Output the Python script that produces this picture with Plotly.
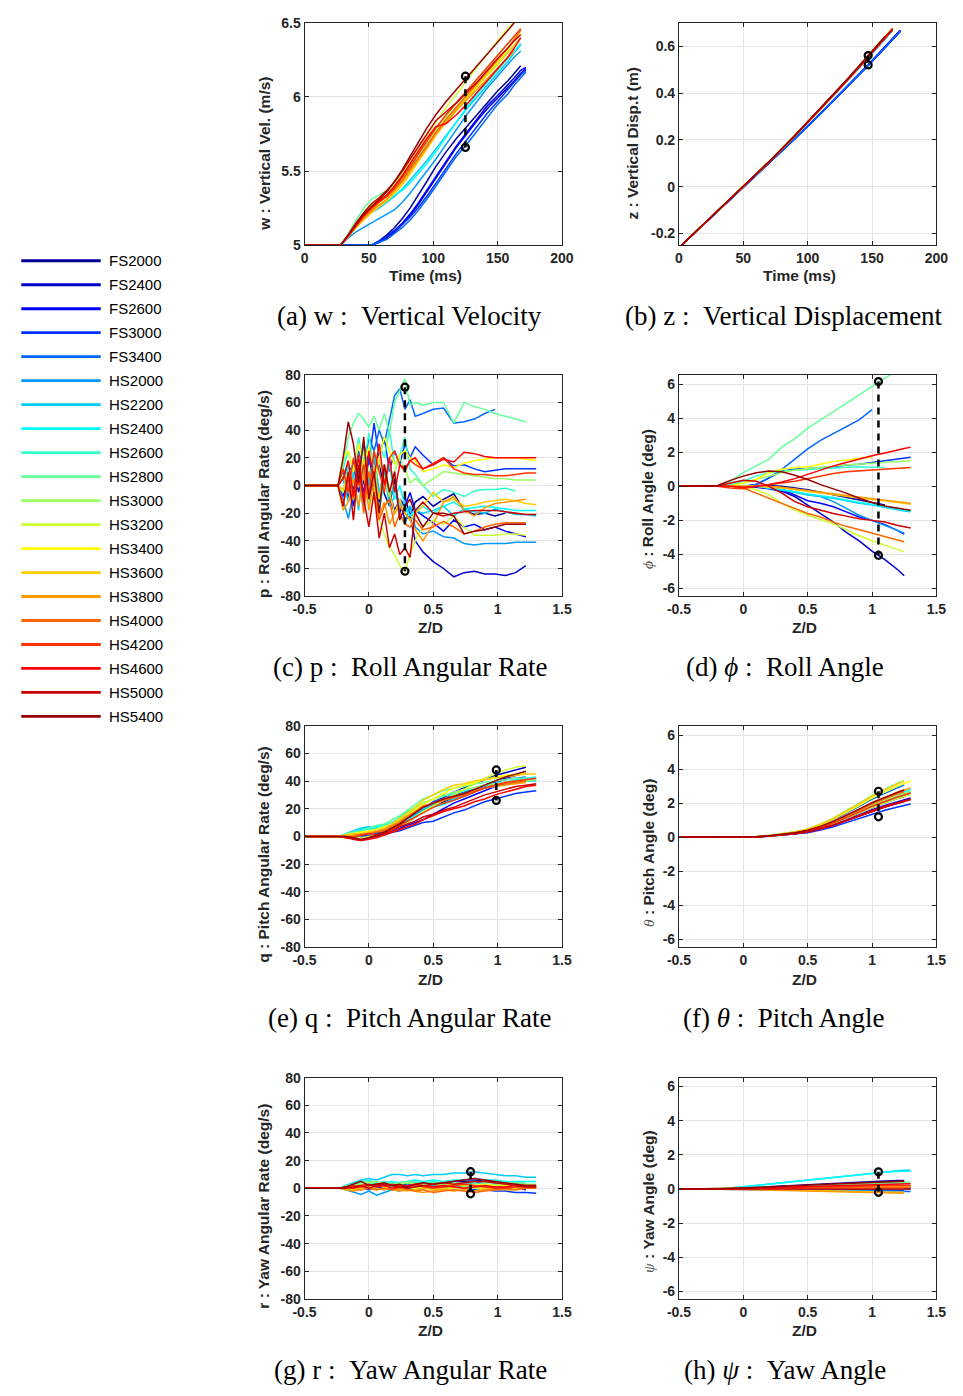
import plotly.graph_objects as go

# ---------------- series ----------------
SERIES = ["FS2000", "FS2400", "FS2600", "FS3000", "FS3400", "HS2000", "HS2200", "HS2400",
          "HS2600", "HS2800", "HS3000", "HS3200", "HS3400", "HS3600", "HS3800", "HS4000",
          "HS4200", "HS4600", "HS5000", "HS5400"]
COLORS = ["rgb(0,0,153)", "rgb(0,0,204)", "rgb(0,0,255)", "rgb(0,51,255)", "rgb(0,102,255)",
          "rgb(0,153,255)", "rgb(0,204,255)", "rgb(0,255,255)", "rgb(51,255,204)", "rgb(102,255,153)",
          "rgb(153,255,102)", "rgb(204,255,51)", "rgb(255,255,0)", "rgb(255,204,0)", "rgb(255,153,0)",
          "rgb(255,102,0)", "rgb(255,51,0)", "rgb(255,0,0)", "rgb(204,0,0)", "rgb(153,0,0)"]

# ---------------- (a) w vs time ----------------
W_T = [0, 28, 34, 40, 46, 52, 58, 64, 70, 76, 82, 88, 95, 102, 110, 118, 126, 134, 142, 150, 158, 163, 168, 172]
W_VALS = [
    [5, 5, 5, 5, 5, 5, 5.03, 5.07, 5.12, 5.18, 5.25, 5.33, 5.43, 5.53, 5.63, 5.72, 5.8, 5.88, 5.96, 6.04, 6.11, 6.16, 6.21],
    [5, 5, 5, 5, 5, 5, 5.02, 5.05, 5.09, 5.14, 5.2, 5.27, 5.36, 5.45, 5.56, 5.66, 5.75, 5.84, 5.92, 5.99, 6.06, 6.11, 6.16, 6.19],
    [5, 5, 5, 5, 5, 5, 5.02, 5.06, 5.1, 5.15, 5.21, 5.28, 5.37, 5.46, 5.57, 5.67, 5.76, 5.85, 5.94, 6.01, 6.08, 6.13, 6.18, 6.2],
    [5, 5, 5, 5, 5, 5, 5.03, 5.06, 5.1, 5.14, 5.19, 5.25, 5.33, 5.42, 5.52, 5.62, 5.71, 5.8, 5.89, 5.97, 6.05, 6.1, 6.15, 6.18],
    [5, 5, 5, 5, 5, 5, 5.02, 5.04, 5.08, 5.12, 5.17, 5.23, 5.31, 5.4, 5.5, 5.6, 5.68, 5.77, 5.86, 5.95, 6.02, 6.08, 6.13, 6.17],
    [5, 5, 5.05, 5.09, 5.12, 5.15, 5.18, 5.21, 5.24, 5.29, 5.35, 5.42, 5.5, 5.58, 5.68, 5.78, 5.88, 5.97, 6.06, 6.14, 6.22, 6.27, 6.31],
    [5, 5, 5.06, 5.12, 5.18, 5.22, 5.25, 5.29, 5.33, 5.38, 5.44, 5.5, 5.57, 5.65, 5.74, 5.83, 5.92, 6.0, 6.08, 6.16, 6.24, 6.3, 6.35],
    [5, 5, 5.06, 5.12, 5.18, 5.23, 5.27, 5.31, 5.34, 5.37, 5.42, 5.48, 5.55, 5.63, 5.73, 5.83, 5.93, 6.02, 6.1, 6.18, 6.26, 6.31, 6.36],
    [5, 5, 5.07, 5.14, 5.21, 5.26, 5.3, 5.34, 5.39, 5.45, 5.52, 5.59, 5.67, 5.76, 5.85, 5.93, 6.01, 6.09, 6.16, 6.23, 6.3, 6.35],
    [5, 5, 5.08, 5.17, 5.25, 5.31, 5.34, 5.37, 5.42, 5.49, 5.55, 5.61, 5.68, 5.76, 5.85, 5.93, 6.01, 6.08, 6.15, 6.22, 6.3, 6.35],
    [5, 5, 5.07, 5.15, 5.22, 5.28, 5.32, 5.36, 5.41, 5.47, 5.54, 5.61, 5.69, 5.78, 5.87, 5.96, 6.04, 6.12, 6.2, 6.28, 6.36, 6.41],
    [5, 5, 5.07, 5.14, 5.21, 5.27, 5.31, 5.36, 5.42, 5.49, 5.57, 5.65, 5.74, 5.83, 5.93, 6.02, 6.11, 6.2, 6.29, 6.38, 6.46, 6.51],
    [5, 5, 5.06, 5.12, 5.18, 5.23, 5.27, 5.31, 5.36, 5.42, 5.49, 5.57, 5.66, 5.75, 5.84, 5.92, 6.0, 6.08, 6.16, 6.24, 6.32, 6.38, 6.43],
    [5, 5, 5.06, 5.12, 5.17, 5.22, 5.26, 5.3, 5.35, 5.41, 5.48, 5.56, 5.65, 5.74, 5.83, 5.91, 5.99, 6.07, 6.15, 6.22, 6.3, 6.35, 6.4],
    [5, 5, 5.06, 5.12, 5.18, 5.23, 5.27, 5.31, 5.37, 5.43, 5.5, 5.57, 5.66, 5.75, 5.83, 5.91, 5.98, 6.05, 6.12, 6.19, 6.26, 6.31],
    [5, 5, 5.07, 5.13, 5.19, 5.24, 5.29, 5.33, 5.38, 5.44, 5.51, 5.58, 5.67, 5.76, 5.85, 5.93, 6.01, 6.09, 6.17, 6.25, 6.33, 6.39, 6.45],
    [5, 5, 5.07, 5.14, 5.2, 5.25, 5.29, 5.33, 5.39, 5.46, 5.53, 5.61, 5.7, 5.79, 5.88, 5.96, 6.04, 6.12, 6.2, 6.28, 6.36, 6.41, 6.46],
    [5, 5, 5.06, 5.13, 5.2, 5.26, 5.3, 5.34, 5.4, 5.47, 5.55, 5.63, 5.72, 5.8, 5.82, 5.88, 5.95, 6.03, 6.11, 6.19, 6.27, 6.33, 6.4],
    [5, 5, 5.07, 5.15, 5.22, 5.28, 5.32, 5.37, 5.43, 5.5, 5.58, 5.66, 5.75, 5.84, 5.9, 5.96, 6.03, 6.1, 6.18, 6.26, 6.33, 6.38, 6.42],
    [5, 5, 5.07, 5.14, 5.21, 5.26, 5.31, 5.36, 5.43, 5.51, 5.6, 5.69, 5.79, 5.88, 5.97, 6.05, 6.13, 6.21, 6.29, 6.37, 6.45, 6.5],
]

# ---------------- (b) z vs time ----------------
Z_T = [2, 15, 30, 50, 70, 90, 110, 130, 147, 160, 166, 172]
Z_VALS = [
    [-0.25, -0.183, -0.105, -0.002, 0.1, 0.205, 0.313, 0.423, 0.52, 0.597, 0.633, 0.667],
    [-0.25, -0.183, -0.105, -0.002, 0.1, 0.205, 0.312, 0.421, 0.518, 0.594, 0.63, 0.664],
    [-0.25, -0.183, -0.105, -0.002, 0.101, 0.206, 0.314, 0.424, 0.521, 0.598, 0.634, 0.668],
    [-0.25, -0.183, -0.105, -0.002, 0.1, 0.204, 0.311, 0.42, 0.517, 0.593, 0.629, 0.663],
    [-0.25, -0.183, -0.105, -0.002, 0.1, 0.205, 0.313, 0.423, 0.52, 0.595, 0.63, 0.665],
    [-0.25, -0.182, -0.103, 0.0, 0.106, 0.215, 0.329, 0.447, 0.55, 0.63, 0.667],
    [-0.25, -0.182, -0.103, 0.0, 0.106, 0.216, 0.33, 0.448, 0.551, 0.632, 0.669],
    [-0.25, -0.182, -0.103, 0.0, 0.106, 0.216, 0.33, 0.448, 0.552, 0.632, 0.67],
    [-0.25, -0.182, -0.103, 0.0, 0.107, 0.218, 0.333, 0.452, 0.556, 0.637, 0.675],
    [-0.25, -0.182, -0.103, 0.0, 0.107, 0.219, 0.334, 0.454, 0.558, 0.64, 0.678],
    [-0.25, -0.182, -0.103, 0.0, 0.107, 0.218, 0.333, 0.452, 0.556, 0.637, 0.675],
    [-0.25, -0.182, -0.103, 0.0, 0.107, 0.219, 0.334, 0.454, 0.559, 0.641, 0.679],
    [-0.25, -0.182, -0.103, 0.0, 0.107, 0.218, 0.333, 0.452, 0.556, 0.637, 0.675],
    [-0.25, -0.182, -0.103, 0.0, 0.107, 0.218, 0.332, 0.451, 0.555, 0.636, 0.674],
    [-0.25, -0.182, -0.103, 0.0, 0.106, 0.217, 0.331, 0.45, 0.554, 0.634, 0.672],
    [-0.25, -0.182, -0.103, 0.0, 0.107, 0.218, 0.333, 0.452, 0.556, 0.637, 0.675],
    [-0.25, -0.182, -0.103, 0.0, 0.107, 0.218, 0.333, 0.452, 0.556, 0.637, 0.675],
    [-0.25, -0.182, -0.103, 0.0, 0.106, 0.217, 0.331, 0.449, 0.553, 0.634, 0.672],
    [-0.25, -0.182, -0.103, 0.0, 0.107, 0.218, 0.333, 0.452, 0.556, 0.637, 0.675],
    [-0.25, -0.182, -0.103, 0.0, 0.107, 0.219, 0.335, 0.455, 0.56, 0.642],
]

# ---------------- (c) p vs Z/D ----------------
P_X = [-0.5, -0.24, -0.2, -0.16, -0.12, -0.08, -0.04, 0.0, 0.04, 0.08, 0.12, 0.16, 0.2, 0.24, 0.28,
       0.32, 0.36, 0.42, 0.5, 0.58, 0.66, 0.74, 0.82, 0.9, 0.98, 1.06, 1.14, 1.22, 1.3]
P_VALS = [
    [0, 0, -5, 8, -3, 12, 2, -10, 5, 18, -6, -15, 5, -20, -8, -22, -12, -8, -15, -10, -6, -18, -21, -20, -22, -20],
    [0, 0, 6, -10, 15, -5, 10, 22, 0, -12, 8, -5, -18, -10, -25, -22, -40, -48, -55, -60, -66, -63, -62, -64, -64, -65, -63, -58],
    [0, 0, -8, 5, -15, 10, -5, 20, 8, -10, 15, -8, -20, -10, -15, -5, -18, -22, -27, -33, -25, -30, -28, -32, -30, -33, -35, -37],
    [0, 0, 10, -5, 18, 5, 30, 15, 45, 20, 35, 10, 25, 15, 30, 20, 28, 22, 15, 20, 14, 15, 12, 10, 11, 12, 12, 12, 12],
    [0, 0, 5, 15, 8, 25, 12, 35, 25, 40, 30, 48, 65, 70, 55, 62, 50, 52, 55, 56, 45, 46, 48, 52, 55],
    [0, 0, -10, -24, -5, 10, -15, 5, 20, -8, 12, -10, 0, -20, -28, -15, -30, -35, -33, -37, -38, -42, -43, -42, -42, -42, -41, -41, -41],
    [0, 0, 5, -12, 10, -18, 15, 0, 25, -5, 10, -15, -8, -12, -20, -15, -18, -20, -18, -15, -22, -17, -19, -20, -17, -19, -21, -21, -22],
    [0, 0, -5, 15, -10, 5, 20, -12, 10, -20, 5, 15, -10, 0, -15, -22, -18, -15, -20, -15, -12, -17, -16, -15, -16, -17, -18, -18, -18],
    [0, 0, 12, 25, 10, 35, 15, 38, 10, 30, 20, 40, 15, 22, 35, 12, 8, 0, -8, -3, -5, -8, -4, -3, -3, -2, -4],
    [0, 0, 15, 35, 45, 52, 48, 42, 50, 40, 52, 38, 60, 68, 77, 58, 60, 58, 60, 60, 45, 60, 57, 55, 52, 50, 48, 46],
    [0, 0, 8, -5, 15, 5, 25, 10, -5, 18, 5, -8, 10, 20, 12, 2, 5, 0, 5, 10, 9, 8, 7, 6, 5, 5, 4, 4, 4],
    [0, 0, -5, 10, -10, 5, 15, -15, -5, -25, -35, -45, -50, -58, -62, -50, -40, -30, -25, -28, -22, -30, -36, -36, -36, -35, -35, -36],
    [0, 0, 20, 25, 10, 30, 15, 28, 5, 20, 35, 25, 15, 22, 25, 20, 18, 10, 12, 15, 13, 16, 18, 19, 20, 20, 20, 19, 18],
    [0, 0, -3, 8, -8, 5, 18, -5, 12, -10, 15, -5, -20, -10, -20, -25, -20, -15, -5, -12, -10, -15, -14, -12, -11, -10, -11, -13, -14],
    [0, 0, -18, -12, 5, -15, 10, -18, 5, -22, -12, -28, -20, -15, -20, -25, -32, -40, -28, -12, -8, -18, -22, -16, -13, -12, -11, -10],
    [0, 0, -15, 5, -10, 8, -20, 10, -5, -25, -15, -10, -30, -20, -28, -30, -25, -32, -30, -26, -30, -35, -33, -30, -28, -27, -27, -27],
    [0, 0, 12, -5, 20, 0, 15, -8, 25, 10, -5, 20, 25, 15, 10, 18, 15, 12, 16, 20, 12, 9, 8, 8, 7, 7, 8, 9, 9],
    [0, 0, 5, 18, -8, 22, -12, 25, 5, 30, 0, 20, -5, 15, 12, 18, 20, 12, 15, 19, 17, 24, 23, 21, 20, 20, 20, 20, 20],
    [0, 0, -15, 10, -25, 15, -10, -30, -5, -38, -20, -45, -35, -50, -45, -52, -18, -12, -20, -22, -20, -19, -18, -18, -18, -19, -20, -21, -21],
    [0, 0, 20, 46, 30, 2, 35, -10, 10, -20, 15, -5, 10, -25, -15, -10, -20, -30, -20, -20, -22, -35, -33, -32, -30, -28, -28, -28],
]

# ---------------- (d) phi vs Z/D ----------------
D_X = [-0.5, -0.2, -0.1, 0.0, 0.1, 0.2, 0.3, 0.4, 0.5, 0.6, 0.7, 0.8, 0.9, 1.0, 1.1, 1.2, 1.25, 1.3]
D_VALS = [
    [0, 0, 0, 0, 0.05, 0.05, 0, -0.1, -0.2, -0.35, -0.5, -0.65, -0.8, -0.95, -1.1],
    [0, 0, 0, 0, -0.05, -0.15, -0.3, -0.6, -1.1, -1.6, -2.1, -2.7, -3.2, -3.8, -4.3, -4.9, -5.25],
    [0, 0, 0, 0, 0, -0.1, -0.2, -0.5, -0.85, -1.0, -1.2, -1.5, -1.8, -2.0, -2.25, -2.6, -2.8],
    [0, 0, 0, 0, 0.1, 0.5, 0.9, 1.0, 1.05, 1.1, 1.15, 1.25, 1.3, 1.4, 1.5, 1.6, 1.65, 1.7],
    [0, 0, 0, 0, 0.1, 0.5, 1.0, 1.6, 2.2, 2.7, 3.1, 3.5, 3.9, 4.5],
    [0, 0, 0, 0, 0, -0.1, -0.2, -0.35, -0.5, -0.6, -0.9, -1.3, -1.7, -2.0, -2.3, -2.6, -2.75],
    [0, 0, 0, 0, 0, -0.1, -0.2, -0.35, -0.5, -0.6, -0.7, -0.85, -1.0, -1.1, -1.25, -1.4, -1.45, -1.5],
    [0, 0, 0, 0.05, 0, -0.1, -0.2, -0.3, -0.45, -0.55, -0.65, -0.8, -0.95, -1.05, -1.2, -1.35, -1.4, -1.45],
    [0, 0, 0.1, 0.3, 0.6, 0.8, 0.9, 0.95, 1.0, 1.05, 1.1, 1.12, 1.15, 1.12, 1.1],
    [0, 0, 0.3, 0.8, 1.2, 1.6, 2.3, 2.8, 3.4, 3.9, 4.4, 4.9, 5.4, 5.9, 6.35, 6.8],
    [0, 0, 0.05, 0.2, 0.4, 0.6, 0.8, 0.95, 1.05, 1.1, 1.2, 1.25, 1.3, 1.35, 1.4, 1.45, 1.48, 1.5],
    [0, 0, 0, 0, -0.2, -0.5, -1.0, -1.4, -1.7, -1.95, -2.2, -2.55, -2.9, -3.2, -3.45, -3.7, -3.85],
    [0, 0, 0, 0.2, 0.4, 0.8, 1.0, 1.1, 1.15, 1.3, 1.45, 1.55, 1.65, 1.7],
    [0, 0, 0, 0, 0, -0.05, -0.1, -0.2, -0.3, -0.4, -0.5, -0.6, -0.7, -0.78, -0.85, -0.95, -1.0, -1.05],
    [0, 0, 0, 0, 0, 0, -0.05, -0.15, -0.25, -0.35, -0.45, -0.55, -0.65, -0.75, -0.82, -0.9, -0.95, -1.0],
    [0, 0, 0, -0.1, -0.4, -0.7, -1.0, -1.3, -1.6, -1.8, -2.1, -2.35, -2.55, -2.75, -2.95, -3.15, -3.25],
    [0, 0, -0.1, -0.15, 0, 0.1, 0.2, 0.3, 0.45, 0.6, 0.75, 0.85, 0.9, 0.95, 1.0, 1.05, 1.08, 1.1],
    [0, 0, 0, -0.05, 0, 0.1, 0.25, 0.45, 0.7, 0.95, 1.2, 1.4, 1.6, 1.8, 1.95, 2.15, 2.22, 2.3],
    [0, 0, 0.2, 0.35, 0.3, 0.0, -0.4, -0.9, -1.2, -1.4, -1.6, -1.75, -1.9, -2.0, -2.1, -2.3, -2.38, -2.45],
    [0, 0.05, 0.35, 0.6, 0.8, 0.9, 0.85, 0.65, 0.4, 0.1, -0.15, -0.4, -0.7, -0.95, -1.15, -1.3, -1.35, -1.4],
]

# ---------------- (e) q vs Z/D ----------------
E_X = [-0.5, -0.23, -0.18, -0.12, -0.06, 0.0, 0.06, 0.12, 0.18, 0.24, 0.3, 0.36, 0.42, 0.5, 0.58,
       0.66, 0.74, 0.82, 0.9, 0.98, 1.06, 1.14, 1.22, 1.3]
E_VALS = [
    [0, 0, 0, 1, 2, 2, 4, 3, 5, 8, 10, 14, 18, 22, 25, 28, 31, 34, 37, 40, 42, 44, 46],
    [0, 0, 1, 0, 2, 3, 2, 5, 7, 9, 12, 16, 20, 25, 28, 32, 35, 38, 41, 44, 46, 48, 50],
    [0, 0, 0, -1, 1, 0, 2, 3, 4, 6, 8, 10, 12, 16, 20, 24, 27, 30, 33, 36, 38, 40, 41],
    [0, 0, 0, 1, 0, 1, 2, 1, 3, 4, 6, 8, 10, 11, 14, 17, 19, 22, 25, 27, 29, 31, 32, 33],
    [0, 0, 1, 2, 1, 3, 4, 5, 6, 8, 12, 16, 20, 25, 27, 30, 32, 35, 37, 39, 41, 42, 43],
    [0, 0, 2, 3, 5, 6, 5, 7, 9, 11, 13, 16, 19, 23, 26, 28, 31, 34, 36, 38, 39, 40, 41, 41],
    [0, 0, 2, 4, 6, 7, 6, 8, 10, 12, 15, 17, 20, 22, 24, 27, 30, 33, 35, 37, 38, 39, 40, 40],
    [0, 0, 1, 3, 5, 6, 7, 8, 9, 10, 12, 15, 18, 21, 23, 26, 29, 32, 35, 37, 39, 41, 42, 43],
    [0, 0, 1, 3, 4, 5, 6, 8, 10, 14, 18, 21, 24, 27, 29, 31, 33, 35, 37, 38, 39, 40, 41],
    [0, 0, 2, 3, 4, 6, 8, 9, 12, 15, 19, 23, 27, 30, 33, 35, 36, 38, 39, 40, 41, 42, 42],
    [0, 0, 1, 2, 3, 3, 5, 6, 8, 12, 16, 20, 24, 27, 30, 32, 34, 35, 37, 38, 39, 40, 40, 41],
    [0, 0, 0, 1, -1, 0, 1, 3, 4, 7, 10, 14, 18, 22, 26, 30, 34, 38, 42, 45, 48, 50, 51],
    [0, 0, 1, 2, 3, 4, 5, 7, 9, 12, 15, 19, 23, 27, 31, 35, 37, 39, 41, 43, 44, 45, 46],
    [0, 0, 1, 2, 2, 3, 4, 6, 9, 13, 17, 21, 26, 30, 34, 37, 38, 40, 41, 42, 43, 44, 45, 45],
    [0, 0, 0, 1, 2, 2, 4, 5, 8, 11, 15, 18, 21, 24, 27, 29, 31, 33, 35, 36, 37, 38, 39],
    [0, 0, -1, 0, 1, 2, 3, 4, 7, 10, 14, 18, 22, 24, 26, 28, 30, 33, 35, 37, 38, 39, 40],
    [0, 0, 0, -1, 1, 2, 1, 3, 5, 8, 11, 14, 17, 21, 24, 26, 29, 32, 35, 37, 39, 40, 41, 42],
    [0, 0, -1, -2, -3, -2, -1, 1, 3, 5, 7, 9, 12, 15, 18, 20, 22, 25, 27, 30, 32, 34, 36, 37],
    [0, 0, 0, -2, -3, -1, 0, 2, 4, 7, 9, 11, 14, 16, 19, 21, 24, 27, 30, 32, 34, 36, 37, 38],
    [0, 0, 0, -1, -2, -1, 1, 3, 6, 9, 13, 17, 21, 24, 27, 29, 31, 34, 37, 40, 43, 45, 47],
]

# ---------------- (f) theta vs Z/D ----------------
F_X = [-0.5, -0.2, 0.0, 0.1, 0.2, 0.3, 0.4, 0.5, 0.6, 0.7, 0.8, 0.9, 1.0, 1.1, 1.2, 1.25, 1.3]
F_VALS = [
    [0, 0, 0, 0.03, 0.08, 0.15, 0.23, 0.35, 0.55, 0.8, 1.1, 1.43, 1.75, 2.03, 2.28, 2.39],
    [0, 0, 0, 0.02, 0.07, 0.13, 0.2, 0.31, 0.48, 0.7, 0.97, 1.25, 1.54, 1.78, 2.0, 2.1],
    [0, 0, 0, 0.02, 0.07, 0.14, 0.21, 0.32, 0.51, 0.74, 1.01, 1.31, 1.61, 1.86, 2.09, 2.2, 2.3],
    [0, 0, 0, 0.02, 0.06, 0.12, 0.18, 0.27, 0.43, 0.62, 0.86, 1.11, 1.37, 1.58, 1.77, 1.86, 1.95],
    [0, 0, 0, 0.03, 0.1, 0.19, 0.29, 0.45, 0.7, 1.02, 1.41, 1.82, 2.24, 2.59, 2.91, 3.06],
    [0, 0, 0, 0.03, 0.08, 0.16, 0.23, 0.36, 0.57, 0.83, 1.14, 1.48, 1.82, 2.11, 2.37, 2.48, 2.6],
    [0, 0, 0, 0.03, 0.08, 0.16, 0.24, 0.38, 0.59, 0.86, 1.19, 1.54, 1.89, 2.19, 2.46, 2.58, 2.7],
    [0, 0, 0, 0.03, 0.08, 0.17, 0.25, 0.39, 0.62, 0.9, 1.23, 1.6, 1.96, 2.27, 2.55, 2.67, 2.8],
    [0, 0, 0, 0.03, 0.1, 0.2, 0.3, 0.46, 0.73, 1.06, 1.45, 1.88, 2.31, 2.67, 3.0, 3.15],
    [0, 0, 0, 0.04, 0.11, 0.21, 0.32, 0.49, 0.77, 1.12, 1.54, 2.0, 2.45, 2.84, 3.19, 3.34],
    [0, 0, 0, 0.03, 0.08, 0.16, 0.24, 0.38, 0.59, 0.86, 1.19, 1.54, 1.89, 2.19, 2.46, 2.58, 2.7],
    [0, 0, 0, 0.03, 0.08, 0.15, 0.23, 0.35, 0.55, 0.8, 1.1, 1.43, 1.75, 2.03, 2.28, 2.39, 2.5],
    [0, 0, 0, 0.03, 0.1, 0.2, 0.3, 0.46, 0.73, 1.06, 1.45, 1.88, 2.31, 2.67, 3.0, 3.15, 3.3],
    [0, 0, 0, 0.03, 0.1, 0.21, 0.31, 0.48, 0.76, 1.1, 1.52, 1.97, 2.42, 2.79, 3.14, 3.29],
    [0, 0, 0, 0.03, 0.09, 0.17, 0.26, 0.41, 0.64, 0.93, 1.28, 1.65, 2.03, 2.35, 2.64, 2.77, 2.9],
    [0, 0, 0, 0.03, 0.08, 0.17, 0.25, 0.39, 0.62, 0.9, 1.23, 1.6, 1.96, 2.27, 2.55, 2.67],
    [0, 0, 0, 0.03, 0.08, 0.16, 0.23, 0.36, 0.57, 0.83, 1.14, 1.48, 1.82, 2.11, 2.37, 2.48, 2.6],
    [0, 0, 0, 0.02, 0.07, 0.13, 0.2, 0.31, 0.48, 0.7, 0.97, 1.25, 1.54, 1.78, 2.0, 2.1, 2.2],
    [0, 0, 0, 0.02, 0.07, 0.14, 0.2, 0.32, 0.5, 0.72, 0.99, 1.28, 1.58, 1.82, 2.05, 2.15, 2.25],
    [0, 0, 0, 0.03, 0.09, 0.17, 0.26, 0.41, 0.64, 0.93, 1.28, 1.65, 2.03, 2.35, 2.64, 2.77],
]

# ---------------- (g) r vs Z/D ----------------
G_X = E_X
G_VALS = [
    [0, 0, 0, 1, 2, 1, 3, 2, 1, 2, 3, 2, 4, 3, 4, 5, 5, 4, 5, 4, 3, 3, 2],
    [0, 0, 0, -1, 0, 1, 0, -1, 1, 2, 1, 2, 3, 4, 4, 5, 6, 6, 5, 4, 4, 3, 3],
    [0, 0, 1, 0, -1, 0, 1, 2, 1, 0, 1, 2, 1, 2, 3, 2, 3, 4, 3, 2, 1, 0, -1],
    [0, 0, 0, 1, 0, -1, 0, 1, 2, 1, 0, -1, 0, 1, 0, 1, 0, -1, -1, -2, -2, -3, -3, -3.5],
    [0, 0, 1, 2, 1, 0, 2, 3, 2, 1, 3, 2, 1, 2, 1, 2, 3, 2, 2, 1, 1, 0, 0],
    [0, 0, -1, -3, -4.5, -2, -5, -3, -1, -2, 0, -1, 1, 0, 1, 2, 1, 2, 1, 1, 0, 0, 1, 1],
    [0, 0, 2, 4, 6, 7, 6, 8, 10, 10, 9, 10, 9, 10, 10, 11, 11, 12, 11, 10, 9, 9, 8, 8],
    [0, 0, 1, 2, 3, 4, 3, 4, 5, 4, 5, 6, 5, 6, 5, 6, 6, 7, 6, 6, 5, 5, 5, 5],
    [0, 0, 2, 3, 5, 6, 4, 5, 4, 3, 4, 5, 4, 5, 4, 3, 4, 4, 3, 3, 3, 2, 2],
    [0, 0, 1, 3, 4, 5, 3, 4, 3, 4, 5, 4, 3, 4, 3, 4, 3, 3, 4, 4, 4, 4, 4],
    [0, 0, 1, 2, 3, 4, 5, 3, 2, 3, 4, 3, 2, 3, 4, 3, 2, 3, 2, 2, 3, 3, 3, 3],
    [0, 0, -1, 0, 1, 0, -1, 0, 1, 0, -1, 0, 1, 0, -1, 0, 1, 0, -1, -1, 0, 0, 0],
    [0, 0, 0, 1, 2, 1, 2, 1, 0, 1, 2, 1, 2, 3, 2, 3, 2, 2, 3, 2, 2, 1, 1, 1],
    [0, 0, 0, -1, 0, 1, 0, -1, 0, -1, -2, -1, 0, -1, 0, 1, 0, 1, 0, 0, 1, 1, 0],
    [0, 0, -1, -2, -1, 0, -1, 0, -1, -2, -1, -2, -3, -2, -1, -2, -1, -2, -1, -1, -1, -1, 0],
    [0, 0, 1, 0, 1, 0, -1, 0, -1, 0, -1, -2, -1, -3, -2, -1, -2, -3, -2, -1, 0, -1, 0, 0],
    [0, 0, 1, 2, 1, 2, 3, 2, 3, 2, 1, 2, 1, 0, 1, 2, 3, 2, 1, 0, 0, 1, 1, 1],
    [0, 0, 1, 0, 2, 3, 1, 2, 0, 1, 2, 3, 2, 1, 2, 1, 0, 1, 2, 1, 1, 2, 2, 2],
    [0, 0, 0, 1, 2, 0, 2, 3, 2, 1, 0, 1, 2, 3, 4, 3, 4, 5, 5, 4, 3, 2, 1, 1],
    [0, 0, 1, 3, 5, 2, 3, 4, 2, 3, 1, 3, 4, 3, 4, 5, 6, 7, 6, 5, 4, 3, 2, 2],
]

# ---------------- (h) psi vs Z/D ----------------
H_X = F_X
H_VALS = [
    [0, 0, 0.06, 0.1, 0.13, 0.17, 0.2, 0.25, 0.28, 0.32, 0.36, 0.4, 0.43, 0.46, 0.49, 0.5],
    [0, 0, 0.01, 0.02, 0.03, 0.03, 0.04, 0.05, 0.06, 0.06, 0.07, 0.08, 0.09, 0.09, 0.1, 0.1, 0.1],
    [0, 0, -0.01, -0.02, -0.03, -0.03, -0.04, -0.05, -0.06, -0.06, -0.07, -0.08, -0.09, -0.09, -0.1, -0.1],
    [0, 0, 0.01, 0.01, 0.02, 0.02, 0.02, 0.01, 0.01, 0.0, 0.0, -0.01, -0.01, 0, 0, 0, 0],
    [0, 0, -0.02, -0.03, -0.04, -0.05, -0.06, -0.07, -0.08, -0.1, -0.11, -0.12, -0.13, -0.14, -0.15, -0.15, -0.15],
    [0, 0, -0.03, -0.04, -0.05, -0.06, -0.07, -0.08, -0.09, -0.1, -0.11, -0.12, -0.13, -0.13, -0.14, -0.15],
    [0, 0, 0.13, 0.21, 0.29, 0.36, 0.45, 0.54, 0.62, 0.7, 0.79, 0.87, 0.95, 1.01, 1.07, 1.09, 1.1],
    [0, 0, 0.12, 0.2, 0.27, 0.35, 0.43, 0.51, 0.59, 0.67, 0.76, 0.83, 0.9, 0.97, 1.02, 1.04, 1.05],
    [0, 0, 0.04, 0.07, 0.09, 0.12, 0.14, 0.17, 0.2, 0.22, 0.25, 0.28, 0.3, 0.32, 0.34, 0.35],
    [0, 0, 0.05, 0.08, 0.1, 0.13, 0.16, 0.2, 0.22, 0.26, 0.29, 0.32, 0.34, 0.37, 0.39, 0.4, 0.4],
    [0, 0, 0.02, 0.04, 0.05, 0.07, 0.08, 0.1, 0.11, 0.13, 0.14, 0.16, 0.17, 0.18, 0.19, 0.2, 0.2],
    [0, 0, 0.01, 0.01, 0.01, 0.02, 0.02, 0.02, 0.03, 0.03, 0.04, 0.04, 0.04, 0.05, 0.05, 0.05],
    [0, 0, 0.02, 0.03, 0.04, 0.05, 0.06, 0.07, 0.08, 0.1, 0.11, 0.12, 0.13, 0.14, 0.15, 0.15, 0.15],
    [0, 0, -0.02, -0.04, -0.05, -0.07, -0.08, -0.1, -0.11, -0.13, -0.14, -0.16, -0.17, -0.18, -0.19, -0.2],
    [0, 0, -0.03, -0.05, -0.07, -0.08, -0.1, -0.12, -0.14, -0.16, -0.18, -0.2, -0.22, -0.23, -0.24, -0.25],
    [0, 0, 0.01, 0.02, 0.03, 0.03, 0.04, 0.05, 0.06, 0.06, 0.07, 0.08, 0.09, 0.09, 0.1, 0.1, 0.1],
    [0, 0, 0.02, 0.04, 0.05, 0.07, 0.08, 0.1, 0.11, 0.13, 0.14, 0.16, 0.17, 0.18, 0.19, 0.2, 0.2],
    [0, 0, 0.04, 0.06, 0.08, 0.1, 0.12, 0.15, 0.17, 0.19, 0.22, 0.24, 0.26, 0.28, 0.29, 0.3, 0.3],
    [0, 0, 0.02, 0.03, 0.03, 0.03, 0.02, 0.02, 0.01, 0.01, 0.0, 0.0, 0.0, -0.01, 0, 0, 0],
    [0, 0, 0.05, 0.09, 0.12, 0.15, 0.18, 0.22, 0.25, 0.29, 0.32, 0.36, 0.39, 0.41, 0.44, 0.45],
]

# ---------------- spread markers (x, top, bottom) ----------------
MARK_A = [125, 6.14, 5.66]
MARK_B = [147, 0.56, 0.52]
MARK_C = [0.28, 71, -62]
MARK_D = [1.05, 6.15, -4.05]
MARK_E = [0.99, 48, 26]
MARK_F = [1.05, 2.7, 1.2]
MARK_G = [0.79, 12, -4]
MARK_H = [1.05, 1.0, -0.2]

# ---------------- tick labels ----------------
T_TIME = [0, 50, 100, 150, 200]
T_ZD = [-0.5, 0, 0.5, 1, 1.5]
T_ZD_TXT = ["-0.5", "0", "0.5", "1", "1.5"]
T_W = [5, 5.5, 6, 6.5]
T_W_TXT = ["5", "5.5", "6", "6.5"]
T_Z = [-0.2, 0, 0.2, 0.4, 0.6]
T_Z_TXT = ["-0.2", "0", "0.2", "0.4", "0.6"]
T_RATE = [-80, -60, -40, -20, 0, 20, 40, 60, 80]
T_RATE_TXT = ["-80", "-60", "-40", "-20", "0", "20", "40", "60", "80"]
T_ANG = [-6, -4, -2, 0, 2, 4, 6]
T_ANG_TXT = ["-6", "-4", "-2", "0", "2", "4", "6"]

# ---------------- layout helpers ----------------
W, H = 963, 1396
COLS = [(300, 564), (684, 948)]
ROWS = [(15, 240), (371, 595), (726, 950), (1082, 1306)]
SANS = "Liberation Sans"
SERIF = "Liberation Serif"
INK = "#262626"


def px_x(v):
    return v / W


def px_y(v):
    return 1 - v / H


def greek(ch):
    return ('<span style="font-family:Liberation Serif;font-weight:normal;color:#555555">'
            '<i>' + ch + '</i></span>')


NB = "\u00a0"
PANELS = [
    dict(r=0, c=0, x=W_T, v=W_VALS, xr=[0, 200], yr=[5, 6.5], xt=T_TIME, xtt=[str(t) for t in T_TIME],
         yt=T_W, ytt=T_W_TXT, xtitle="Time (ms)", ytitle="w : Vertical Vel. (m/s)", yty=148, ytx=259,
         cap="(a) w" + NB + ":" + NB + NB + "Vertical Velocity", capx=408, m=MARK_A),
    dict(r=0, c=1, x=Z_T, v=Z_VALS, xr=[0, 200], yr=[-0.25, 0.70], xt=T_TIME, xtt=[str(t) for t in T_TIME],
         yt=T_Z, ytt=T_Z_TXT, xtitle="Time (ms)", ytitle="z : Vertical Disp.t (m)", yty=137, ytx=636,
         cap="(b) z" + NB + ":" + NB + NB + "Vertical Displacement", capx=792, m=MARK_B),
    dict(r=1, c=0, x=P_X, v=P_VALS, xr=[-0.5, 1.5], yr=[-80, 80], xt=T_ZD, xtt=T_ZD_TXT,
         yt=T_RATE, ytt=T_RATE_TXT, xtitle="Z/D", ytitle="p : Roll Angular Rate (deg/s)", yty=492, ytx=258,
         cap="(c) p" + NB + ":" + NB + NB + "Roll Angular Rate", capx=408, m=MARK_C),
    dict(r=1, c=1, x=D_X, v=D_VALS, xr=[-0.5, 1.5], yr=[-6.45, 6.55], xt=T_ZD, xtt=T_ZD_TXT,
         yt=T_ANG, ytt=T_ANG_TXT, xtitle="Z/D", ytitle=greek("\u03d5") + " : Roll Angle (deg)", yty=497, ytx=652,
         cap="(d) <i>\u03d5</i>" + NB + ":" + NB + NB + "Roll Angle", capx=793, m=MARK_D),
    dict(r=2, c=0, x=E_X, v=E_VALS, xr=[-0.5, 1.5], yr=[-80, 80], xt=T_ZD, xtt=T_ZD_TXT,
         yt=T_RATE, ytt=T_RATE_TXT, xtitle="Z/D", ytitle="q : Pitch Angular Rate (deg/s)", yty=857, ytx=258,
         cap="(e) q" + NB + ":" + NB + NB + "Pitch Angular Rate", capx=408, m=MARK_E),
    dict(r=2, c=1, x=F_X, v=F_VALS, xr=[-0.5, 1.5], yr=[-6.45, 6.55], xt=T_ZD, xtt=T_ZD_TXT,
         yt=T_ANG, ytt=T_ANG_TXT, xtitle="Z/D", ytitle=greek("\u03b8") + " : Pitch Angle (deg)", yty=855, ytx=652,
         cap="(f) <i>\u03b8</i>" + NB + ":" + NB + NB + "Pitch Angle", capx=792, m=MARK_F),
    dict(r=3, c=0, x=G_X, v=G_VALS, xr=[-0.5, 1.5], yr=[-80, 80], xt=T_ZD, xtt=T_ZD_TXT,
         yt=T_RATE, ytt=T_RATE_TXT, xtitle="Z/D", ytitle="r : Yaw Angular Rate (deg/s)", yty=1212, ytx=258,
         cap="(g) r" + NB + ":" + NB + NB + "Yaw Angular Rate", capx=409, m=MARK_G),
    dict(r=3, c=1, x=H_X, v=H_VALS, xr=[-0.5, 1.5], yr=[-6.45, 6.52], xt=T_ZD, xtt=T_ZD_TXT,
         yt=T_ANG, ytt=T_ANG_TXT, xtitle="Z/D", ytitle=greek("\u03c8") + " : Yaw Angle (deg)", yty=1207, ytx=652,
         cap="(h) <i>\u03c8</i>" + NB + ":" + NB + NB + "Yaw Angle", capx=793, m=MARK_H),
]
CAP_Y = [312, 667, 1022, 1378]
XTITLE_Y = [271, 627, 983, 1338]

fig = go.Figure()
annotations = []
shapes = []
layout = {}

tickfont = dict(family=SANS, size=14, color=INK, weight="bold")

for k, pn in enumerate(PANELS):
    sfx = "" if k == 0 else str(k + 1)
    xa, ya = "x" + sfx, "y" + sfx
    x0, x1 = COLS[pn["c"]]
    y0, y1 = ROWS[pn["r"]]
    for i, vals in enumerate(pn["v"]):
        fig.add_trace(go.Scatter(
            x=pn["x"][:len(vals)], y=vals, mode="lines", name=SERIES[i],
            line=dict(color=COLORS[i], width=1.5), showlegend=False,
            xaxis=xa, yaxis=ya, hoverinfo="skip"))
    mx, mt, mb = pn["m"]
    fig.add_trace(go.Scatter(
        x=[mx, mx], y=[mt, mb], mode="lines+markers", showlegend=False,
        line=dict(color="black", width=2.5, dash="7px,6px"),
        marker=dict(symbol="circle-open", size=7, color="black", line=dict(width=2.2, color="black")),
        xaxis=xa, yaxis=ya, hoverinfo="skip"))

    layout["xaxis" + sfx] = dict(
        domain=[px_x(x0), px_x(x1)], anchor=ya, range=pn["xr"], tickvals=pn["xt"], ticktext=pn["xtt"],
        showline=True, mirror="ticks", linecolor=INK, linewidth=1, ticks="inside", ticklen=4,
        tickcolor=INK, showgrid=True, gridcolor="#e4e4e4", gridwidth=1, zeroline=False,
        tickfont=tickfont, fixedrange=True)
    layout["yaxis" + sfx] = dict(
        domain=[px_y(y1), px_y(y0)], anchor=xa, range=pn["yr"], tickvals=pn["yt"], ticktext=pn["ytt"],
        showline=True, mirror="ticks", linecolor=INK, linewidth=1, ticks="inside", ticklen=4,
        tickcolor=INK, showgrid=True, gridcolor="#e4e4e4", gridwidth=1, zeroline=False,
        tickfont=tickfont, fixedrange=True)

    annotations.append(dict(
        text=pn["ytitle"], x=px_x(pn["ytx"]), y=px_y(pn["yty"]), xref="paper", yref="paper",
        textangle=-90, showarrow=False, xanchor="center", yanchor="middle",
        font=dict(family=SANS, size=15.5, color=INK, weight="bold")))
    annotations.append(dict(
        text=pn["xtitle"], x=px_x((x0 + x1) / 2 + (-8 if pn["xtitle"] != "Z/D" else -3)),
        y=px_y(XTITLE_Y[pn["r"]]), xref="paper", yref="paper", showarrow=False,
        xanchor="center", yanchor="middle", font=dict(family=SANS, size=15.5, color=INK, weight="bold")))
    annotations.append(dict(
        text=pn["cap"], x=px_x(pn["capx"]), y=px_y(CAP_Y[pn["r"]]), xref="paper", yref="paper",
        showarrow=False, xanchor="center", yanchor="middle",
        font=dict(family=SERIF, size=27, color="black")))

# legend drawn at the left
LEG_Y0, LEG_DY = 255.7, 24.26
for i, nm in enumerate(SERIES):
    yy = px_y(LEG_Y0 + LEG_DY * i)
    shapes.append(dict(type="line", xref="paper", yref="paper", x0=px_x(9.5), x1=px_x(91), y0=yy, y1=yy,
                       line=dict(color=COLORS[i], width=2.8)))
    annotations.append(dict(text=nm, x=px_x(97), y=yy, xref="paper", yref="paper", showarrow=False,
                            xanchor="left", yanchor="middle",
                            font=dict(family=SANS, size=15, color="black")))

fig.update_layout(
    width=W, height=H, margin=dict(l=0, r=0, t=0, b=0),
    paper_bgcolor="white", plot_bgcolor="white", showlegend=False,
    annotations=annotations, shapes=shapes, **layout)

fig.write_html("out.html")
